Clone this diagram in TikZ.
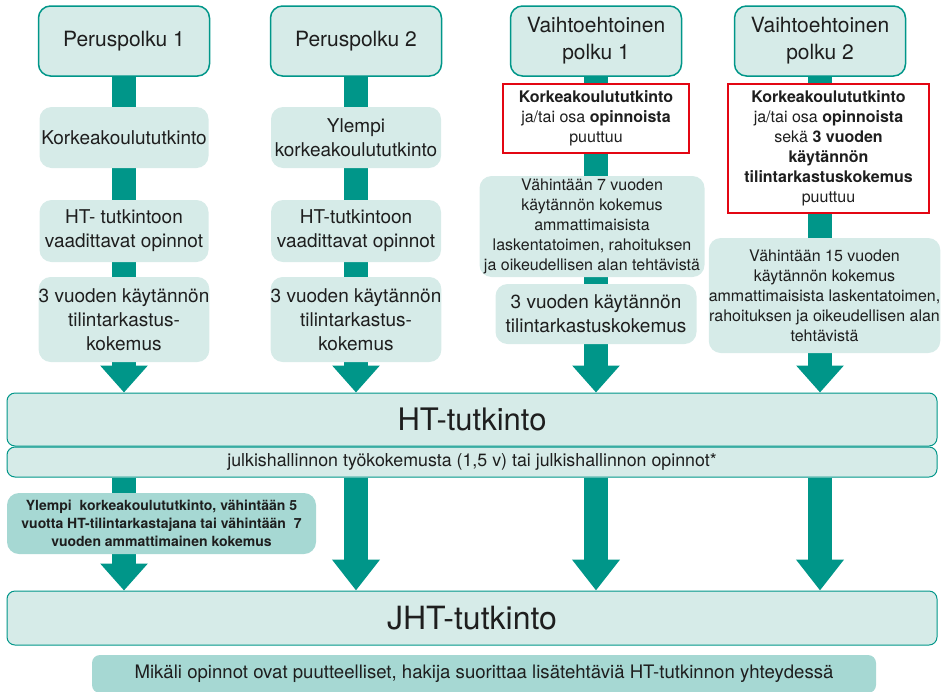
\documentclass[tikz,border=0pt]{standalone}
\usepackage{fontspec}
\setmainfont{TeX Gyre Heros}
\usetikzlibrary{arrows.meta,backgrounds}
\definecolor{vihrea}{RGB}{0,150,137}
\definecolor{vaalea}{RGB}{214,235,232}
\definecolor{minttu}{RGB}{166,216,211}
\definecolor{puna}{RGB}{227,6,19}
\definecolor{teksti}{RGB}{30,30,30}

\begin{document}
\begin{tikzpicture}[x=1pt,y=-1pt,every node/.style={text=teksti},
  polku/.style={draw=vihrea,line width=1.5pt,fill=vaalea,rounded corners=12pt,minimum width=171pt,minimum height=70pt,align=center,inner sep=0pt,font=\fontsize{21}{27}\selectfont},
  vaihe/.style={fill=vaalea,rounded corners=12pt,align=center,inner sep=0pt,font=\fontsize{19}{24}\selectfont},
  puute/.style={draw=puna,line width=1.5pt,fill=white,align=center,inner sep=0pt,font=\fontsize{16}{20}\selectfont},
  kokemus/.style={vaihe,font=\fontsize{16}{20}\selectfont},
  tutkinto/.style={draw=vihrea,line width=1pt,fill=vaalea,rounded corners=8pt,minimum width=930pt,inner sep=0pt},
  virta/.style={vihrea,line width=24pt},
  nuoli/.style={virta,-{Triangle[width=46pt,length=27pt]}},
  isonuoli/.style={virta,-{Triangle[width=46pt,length=31pt]}}]
  \useasboundingbox (0,0) rectangle (944,691);

  \node[polku] (p1) at (124,41) {Peruspolku 1};
  \node[polku] (p2) at (356,41) {Peruspolku 2};
  \node[polku] (v1) at (596,41) {Vaihtoehtoinen\\polku 1};
  \node[polku] (v2) at (820,41) {Vaihtoehtoinen\\polku 2};

  \node[vaihe,minimum width=169pt,minimum height=61pt] (k1) at (124,137.5) {Korkeakoulututkinto};
  \node[vaihe,minimum width=169pt,minimum height=62pt] (h1) at (124,231) {HT- tutkintoon\\vaadittavat opinnot};
  \node[vaihe,minimum width=169pt,minimum height=85pt] (e1) at (124,319.5) {3 vuoden käytännön\\tilintarkastus-\\kokemus};

  \node[vaihe,minimum width=170pt,minimum height=61pt] (k2) at (356,137.5) {Ylempi\\korkeakoulututkinto};
  \node[vaihe,minimum width=170pt,minimum height=62pt] (h2) at (356,231) {HT-tutkintoon\\vaadittavat opinnot};
  \node[vaihe,minimum width=170pt,minimum height=85pt] (e2) at (356,319.5) {3 vuoden käytännön\\tilintarkastus-\\kokemus};

  \node[puute,minimum width=186pt,minimum height=69pt] (r1) at (596,118.5) {\textbf{Korkeakoulututkinto}\\ja/tai osa \textbf{opinnoista}\\puuttuu};
  \node[kokemus,minimum width=225pt,minimum height=101pt] (s1) at (592,226.5) {Vähintään 7 vuoden\\käytännön kokemus\\ammattimaisista\\laskentatoimen, rahoituksen\\ja oikeudellisen alan tehtävistä};
  \node[vaihe,minimum width=201pt,minimum height=60pt] (e3) at (596,314) {3 vuoden käytännön\\tilintarkastuskokemus};

  \node[puute,minimum width=201pt,minimum height=129pt] (r2) at (828.5,148.5) {\textbf{Korkeakoulututkinto}\\ja/tai osa \textbf{opinnoista}\\sekä \textbf{3 vuoden}\\\textbf{käytännön}\\\textbf{tilintarkastuskokemus}\\puuttuu};
  \node[kokemus,minimum width=225pt,minimum height=115pt] (s2) at (824.5,295.5) {Vähintään 15 vuoden\\käytännön kokemus\\ammattimaisista laskentatoimen,\\rahoituksen ja oikeudellisen alan\\tehtävistä};

  \node[tutkinto,minimum height=53pt,font=\fontsize{31}{36}\selectfont] (ht) at (472,419.5) {HT-tutkinto};
  \node[tutkinto,minimum height=30pt,font=\fontsize{17.8}{20}\selectfont] (jul) at (472,462) {julkishallinnon työkokemusta (1,5 v) tai julkishallinnon opinnot*};
  \node[vaihe,fill=minttu,minimum width=309pt,minimum height=61pt,font=\bfseries\fontsize{14}{18}\selectfont] (yl) at (161.5,523.5) {Ylempi\ \ korkeakoulututkinto, vähintään 5\\vuotta HT-tilintarkastajana tai vähintään\ \ 7\\vuoden ammattimainen kokemus};
  \node[tutkinto,minimum height=54pt,font=\fontsize{32}{36}\selectfont] (jht) at (472,618) {JHT-tutkinto};
  \node[vaihe,fill=minttu,rounded corners=8pt,minimum width=784pt,minimum height=38pt,font=\fontsize{18.6}{20}\selectfont] (mik) at (484,674) {Mikäli opinnot ovat puutteelliset, hakija suorittaa lisätehtäviä HT-tutkinnon yhteydessä};

  \begin{scope}[on background layer]
    \draw[virta] (p1.south) -- (k1.north);
    \draw[virta] (k1.south) -- (h1.north);
    \draw[virta] (h1.south) -- (e1.north);
    \draw[nuoli] (e1.south) -- (e1.south |- ht.north);
    \draw[virta] (p2.south) -- (k2.north);
    \draw[virta] (k2.south) -- (h2.north);
    \draw[virta] (h2.south) -- (e2.north);
    \draw[nuoli] (e2.south) -- (e2.south |- ht.north);
    \draw[virta] (v1.south) -- (r1.north);
    \draw[virta] (r1.south) -- (r1.south |- s1.north);
    \draw[virta] (s1.south -| v1) -- (e3.north -| v1);
    \draw[nuoli] (e3.south) -- (e3.south |- ht.north);
    \draw[virta] (v2.south) -- (r2.north -| v2);
    \draw[virta] (r2.south -| v2) -- (s2.north -| v2);
    \draw[nuoli] (s2.south -| v2) -- (ht.north -| v2);
    \draw[virta] (jul.south -| p1) -- (yl.north -| p1);
    \draw[nuoli] (yl.south -| p1) -- (jht.north -| p1);
    \draw[isonuoli] (jul.south -| p2) -- (jht.north -| p2);
    \draw[isonuoli] (jul.south -| v1) -- (jht.north -| v1);
    \draw[isonuoli] (jul.south -| v2) -- (jht.north -| v2);
  \end{scope}
\end{tikzpicture}
\end{document}
